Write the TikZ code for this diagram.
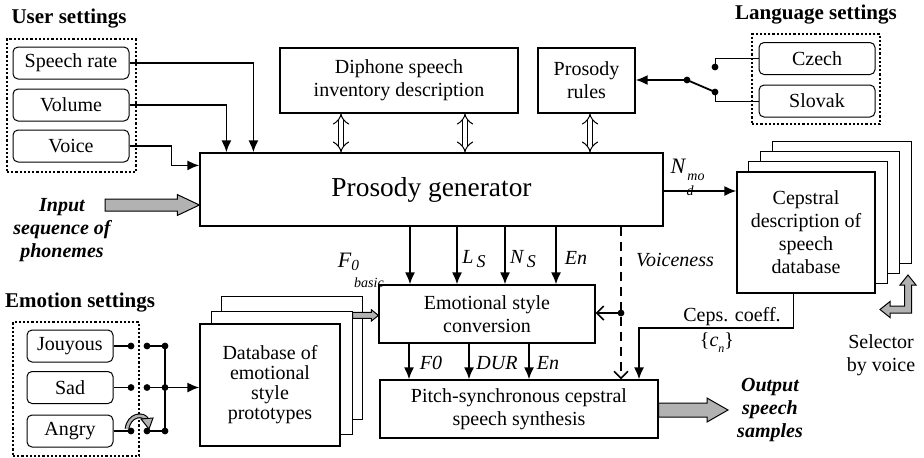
\documentclass[tikz,border=0pt]{standalone}
\usepackage{fontspec}
\setmainfont{Liberation Serif}
\usetikzlibrary{arrows.meta,positioning,calc,backgrounds}

% horizontal block arrow: start, end, half shaft, half head, head length
\newcommand{\fatarrow}[5]{%
  \filldraw[fat] let \p1=(#1), \p2=(#2) in
    (\x1,\y1+#3) -- (\x2-#5,\y1+#3) -- (\x2-#5,\y1+#4) -- (\x2,\y1)
    -- (\x2-#5,\y1-#4) -- (\x2-#5,\y1-#3) -- (\x1,\y1-#3) -- cycle;}

\begin{document}
\begin{tikzpicture}[x=0.5pt, y=-0.5pt, font=\fontsize{10}{11.5}\selectfont,
  bx/.style={draw, line width=0.6pt, inner sep=0pt, align=center, fill=white},
  rb/.style={draw, line width=0.5pt, rounded corners=2.5pt, inner sep=0pt,
    minimum width=58pt, minimum height=16pt},
  grp/.style={draw, densely dotted, line width=1.1pt, inner sep=0pt},
  ttl/.style={font=\fontsize{10.5}{12}\selectfont\bfseries},
  bi/.style={font=\fontsize{10}{11.5}\selectfont\bfseries\itshape, align=center},
  lb/.style={font=\fontsize{10}{11.5}\selectfont\itshape, inner sep=1pt},
  ar/.style={line width=0.9pt, -{Latex[length=6pt,width=5pt]}},
  oar/.style={line width=0.8pt, -{Straight Barb[length=3.5pt,width=7pt]}},
  thk/.style={line width=0.9pt},
  thn/.style={line width=0.5pt},
  dbl/.style={double, double distance=2.4pt, line width=0.5pt,
    {Implies[length=4pt]}-{Implies[length=4pt]}},
  fat/.style={fill=gray!60, draw=black, line width=0.5pt}]
\useasboundingbox (0,0) rectangle (924,457);

% user settings
\node[grp, minimum width=64.5pt, minimum height=66.5pt] (usr) at (71.5,105.5) {};
\node[ttl] (usrt) at (69,19) {User settings};
\node[rb] (rate) at (71,63) {Speech rate};
\node[rb] (vol) at (71,105) {Volume};
\node[rb] (voice) at (71,146) {Voice};

% main blocks
\node[bx, minimum width=231.5pt, minimum height=36.5pt,
  font=\fontsize{13.7}{16}\selectfont] (gen) at (431.5,189.5) {Prosody generator};
\node[bx, minimum width=119pt, minimum height=32.5pt] (diph) at (399,80.5)
  {Diphone speech\\inventory description};
\node[bx, minimum width=48.5pt, minimum height=32.5pt] (rules) at (586.5,80.5)
  {Prosody\\rules};
\node[bx, minimum width=108pt, minimum height=29pt] (emo) at (487,314)
  {Emotional style\\conversion};
\node[bx, minimum width=139pt, minimum height=29pt] (pitch) at (519,409)
  {Pitch-synchronous cepstral\\speech synthesis};

% language settings
\node[grp, minimum width=64pt, minimum height=45pt] (lang) at (816,79) {};
\node[ttl] (langt) at (816,15) {Language settings};
\node[rb] (czech) at (817,58.5) {Czech};
\node[rb] (slovak) at (817,101) {Slovak};

% cepstral database stack
\node[bx, minimum width=69pt, minimum height=60.5pt] (ceps) at (806,232.5)
  {Cepstral\\description of\\speech\\database};
\begin{scope}[on background layer]
\foreach \i in {3,2,1}
  \draw[line width=0.6pt, fill=white] ($(ceps.south west)+(12*\i,-10*\i)$)
    rectangle ($(ceps.north east)+(12*\i,-10*\i)$);
\end{scope}

% emotion settings
\node[grp, minimum width=63pt, minimum height=67pt] (emot) at (76,389) {};
\node[ttl] (emott) at (80,303) {Emotion settings};
\node[rb, minimum width=43pt] (joy) at (70,346) {Jouyous};
\node[rb, minimum width=43pt] (sad) at (70,387.5) {Sad};
\node[rb, minimum width=43pt] (ang) at (70,431) {Angry};

% prototype database stack
\node[bx, minimum width=70pt, minimum height=61pt,
  font=\fontsize{10}{10}\selectfont] (db) at (270,385)
  {Database of\\emotional\\style\\prototypes};
\begin{scope}[on background layer]
\foreach \dx/\dy in {22/-27,12/-12}
  \draw[line width=0.6pt, fill=white] ($(db.south west)+(\dx,\dy)$)
    rectangle ($(db.north east)+(\dx,\dy)$);
\end{scope}

% user settings -> generator
\draw[ar] (rate.east) -| ($(gen.north west)+(54,0)$);
\draw[ar] (vol.east) -| ($(gen.north west)+(27,0)$);
\draw[ar] (voice.east) -- ++(42,0) |- ($(gen.north west)+(0,13)$);

% input / output
\node[bi] (inp) at (62,230) {Input\\sequence of\\phonemes};
\fatarrow{105,205}{$(gen.north west)+(0,52)$}{3pt}{5.2pt}{11pt}
\node[bi] (outp) at (770,410) {Output\\speech\\samples};
\fatarrow{$(pitch.east)+(0,1)$}{728,410}{3.5pt}{6pt}{10.5pt}

% inventory and rules
\foreach \x in {341,465}
  \draw[dbl] (diph.south -| \x,0) -- (gen.north -| \x,0);
\draw[dbl] (rules.south -| 590,0) -- (gen.north -| 590,0);

% language switch
\coordinate (pv) at (687,80);
\coordinate (cz) at (715,67);
\coordinate (sk) at (715,92);
\draw[thn] (czech.west) -| (cz);
\draw[thn] (slovak.west) -| (sk);
\draw[thk] (pv) -- (sk);
\draw[ar] (pv) -- (pv -| rules.east);
\fill (pv) circle (1.7pt) (cz) circle (1.7pt) (sk) circle (1.7pt);

% generator -> cepstral
\draw[ar] ($(gen.east)+(0,1.5)$) -- ($(gen.east -| ceps.west)+(0,1.5)$);
\node[lb, font=\fontsize{11}{12}\selectfont\itshape] (nn) at (678,166) {N};
\node[lb, font=\fontsize{7}{8}\selectfont\itshape] (nmo) at (696,177) {mo};
\node[lb, font=\fontsize{7}{8}\selectfont\itshape] (nd) at (690,191) {d};

% generator -> emotional style conversion
\foreach \x in {410,457,505,556}
  \draw[ar] (gen.south -| \x,0) -- (emo.north -| \x,0);
\node[lb, font=\fontsize{11}{12}\selectfont\itshape] (f0) at (349,262)
  {F\textsubscript{0}};
\node[lb, font=\fontsize{7}{8}\selectfont\itshape] (bas) at (369,283) {basic};
\node[lb] (ls) at (474,259) {L\,\raisebox{-2pt}{\small S}};
\node[lb] (ns) at (523,259) {N\,\raisebox{-2pt}{\small S}};
\node[lb] (en1) at (576,258) {En};

% emotional style conversion -> synthesis
\foreach \x in {409,469,529}
  \draw[ar] (emo.south -| \x,0) -- (pitch.north -| \x,0);
\node[lb] (f0b) at (431,363) {F0};
\node[lb] (dur) at (497,363) {DUR};
\node[lb] (en2) at (548,363) {En};

% voiceness
\coordinate (vx) at (621,313);
\draw[oar, dash pattern=on 4.5pt off 3pt] (gen.south -| vx) -- (pitch.north -| vx);
\draw[oar] (vx) -- (vx -| emo.east);
\fill (vx) circle (1.7pt);
\node[lb] (voic) at (675,260) {Voiceness};

% cepstral coefficients
\draw[ar] ($(ceps.south west)+(57,0)$) -- ++(0,34) -| (pitch.north -| 639,0);
\node[inner sep=1pt] (cc) at (732,317) {Ceps. coeff.};
\node[inner sep=1pt] (cn) at (717,343) {\{\textit{c}\raisebox{-3pt}{\fontsize{6}{7}\selectfont\textit{n}}\}};

% selector by voice
\filldraw[fat] (880,309.5) -- (890,301.5) -- (890,306) -- (904.5,306) -- (904.5,285)
  -- (900,285) -- (908,275) -- (916,285) -- (911.5,285) -- (911.5,313)
  -- (890,313) -- (890,317.5) -- cycle;
\node[align=center] (sel) at (881,355) {Selector\\by voice};

% prototypes -> emotional style conversion
\fatarrow{$(db.north east)+(12,-8)$}{emo.west |- 0,316}{1.5pt}{2.8pt}{3.5pt}

% emotion switches
\foreach \e in {joy,sad,ang} {
  \draw[thk] (\e.east) -- (\e.east -| 131,0) coordinate (\e-a);
  \draw[thk] (\e.east -| 147,0) coordinate (\e-b) -- (\e.east -| 165,0) coordinate (\e-c);
  \fill (\e-a) circle (1.7pt) (\e-b) circle (1.7pt) (\e-c) circle (1.7pt);
}
\draw[thk] (joy-c) -- (ang-c);
\draw[ar] (sad-c) -- (sad-c -| db.west);
\draw[line width=2.4pt] (127,429) .. controls (129,414) and (144,413) .. (147,420);
\draw[line width=1.3pt, gray!60] (127,429) .. controls (129,414) and (144,413) .. (147,420);
\filldraw[fat] (141,419) -- (153,418) -- (149,429) -- cycle;
\end{tikzpicture}
\end{document}
